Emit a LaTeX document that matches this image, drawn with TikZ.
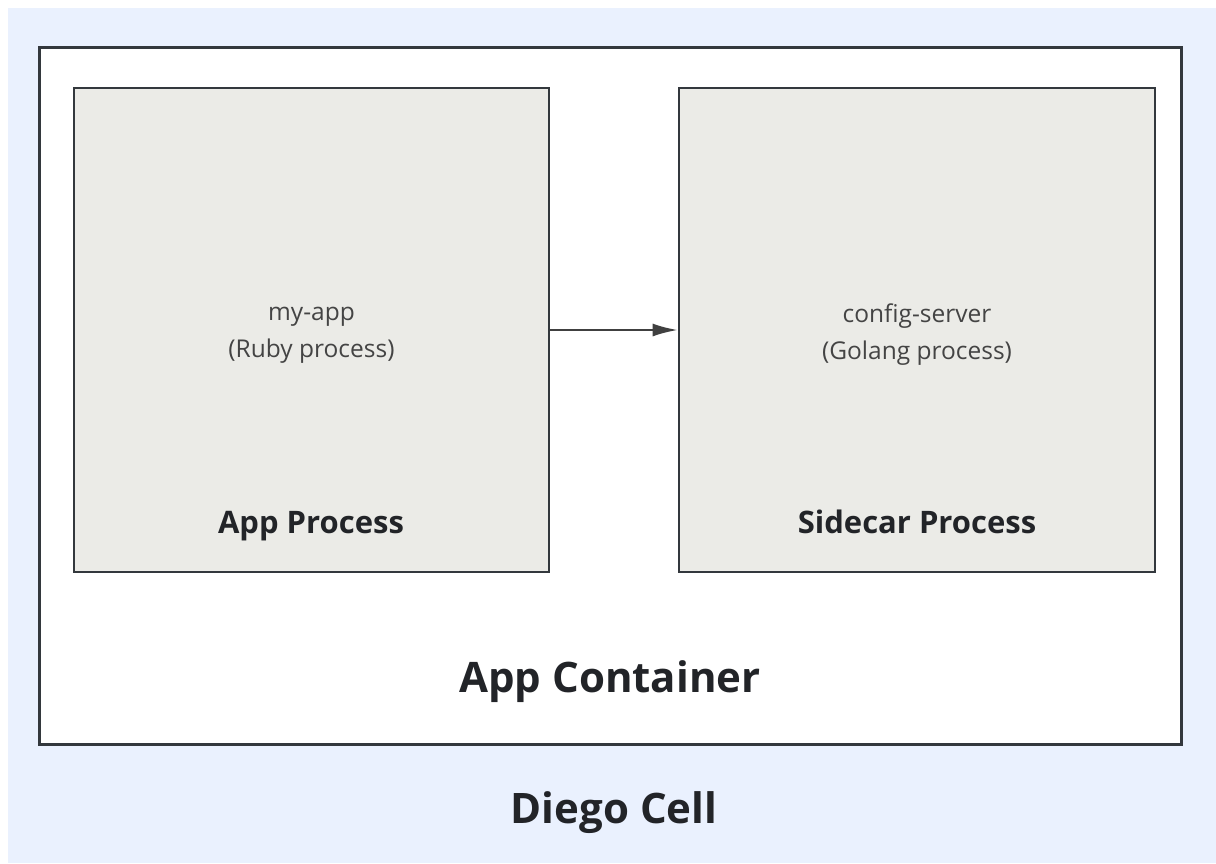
\documentclass[tikz,border=0pt]{standalone}
\usepackage{fontspec}
\setmainfont{Open Sans}
\usetikzlibrary{arrows.meta,positioning}
\definecolor{cellc}{HTML}{EAF1FE}
\definecolor{linec}{HTML}{33383D}
\definecolor{procc}{HTML}{EBEBE7}
\definecolor{labelc}{HTML}{444444}
\definecolor{titlec}{HTML}{222428}
\tikzset{
  containernode/.style={rectangle, draw=linec, fill=white, line width=3pt,
    minimum width=1142pt, minimum height=697pt, inner sep=0pt},
  processnode/.style={rectangle, draw=linec, fill=procc, line width=2.8pt,
    minimum width=475pt, minimum height=484pt, inner sep=0pt},
  smalllabel/.style={font=\fontsize{24.5}{37}\selectfont, text=labelc, align=center},
  boxtitle/.style={font=\fontsize{31}{37}\selectfont\bfseries, text=titlec, anchor=base},
  bigtitle/.style={font=\fontsize{42}{50}\selectfont\bfseries, text=titlec, anchor=base},
  callededge/.style={-{Latex[length=25pt,width=13pt]}, draw=black!75, line width=2pt},
}
\begin{document}
\begin{tikzpicture}[x=1pt, y=-1pt]
  \useasboundingbox (0,0) rectangle (1216,863);
  \fill[cellc] (8,8) rectangle (1216,863);
  \node[containernode] (container) at (610,395.5) {};
  \node[processnode] (app) at (311.5,330) {};
  \node[processnode, minimum width=476pt] (sidecar) at (917,330) {};
  \draw[callededge] (app) -- (sidecar);
  \node[smalllabel] (applabel) at (311.5,335) {my-app\\(Ruby process)};
  \node[smalllabel] (sidecarlabel) at (917,335) {config-server\\(Golang process)};
  \node[boxtitle] (apptitle) at (311,533) {App Process};
  \node[boxtitle] (sidecartitle) at (917,533) {Sidecar Process};
  \node[bigtitle] (containertitle) at (610,692) {App Container};
  \node[bigtitle] (celltitle) at (614,823) {Diego Cell};
\end{tikzpicture}
\end{document}
